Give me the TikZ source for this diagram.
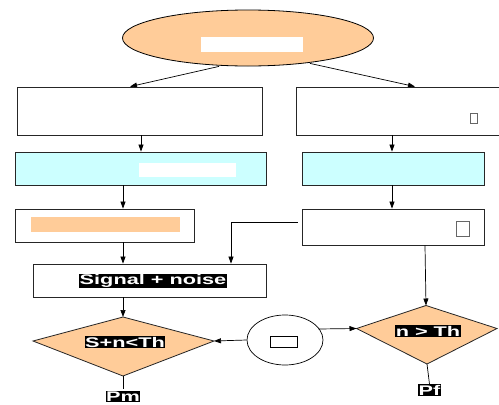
\documentclass[tikz,border=0pt]{standalone}
\usepackage{fontspec}
\setmainfont{Liberation Sans}
\newfontfamily\lblfont[FakeStretch=1.55]{Liberation Sans}
\usetikzlibrary{arrows.meta,shapes.geometric,calc,backgrounds}
\definecolor{peach}{HTML}{FFCC99}
\definecolor{lcyan}{HTML}{CCFFFF}
\begin{document}
\begin{tikzpicture}[x=1pt,y=-1pt,
  box/.style={draw=black!85, line width=0.8pt, rectangle, inner sep=0pt, fill=white},
  cbox/.style={box, fill=lcyan},
  dec/.style={draw=black!85, line width=0.8pt, fill=peach, line join=miter},
  lbl/.style={fill=black, text=white, inner sep=0.6pt, font=\lblfont\bfseries\fontsize{14}{14}\selectfont},
  ph/.style={rectangle, inner sep=0pt},
  arr/.style={draw=black, line width=0.7pt, -{Triangle[length=7pt,width=5pt]}},
  ln/.style={draw=black, line width=0.7pt}]
\useasboundingbox (0,0) rectangle (499,405);

% top ellipse
\node[ellipse, draw=black, line width=0.8pt, fill=peach, minimum width=251, minimum height=56, inner sep=0] (E) at (248,38) {};
\node[ph, fill=white, minimum width=102, minimum height=15] (Eph) at (252,44.5) {};

% first row
\node[box, minimum width=245, minimum height=48] (L1) at (139.5,111) {};
\node[box, minimum width=210, minimum height=48] (R1) at (401,111) {};
\node[ph, draw=black!60, line width=0.6pt, minimum width=7, minimum height=10] (R1ph) at (473.5,118) {};

% second row
\node[cbox, minimum width=251, minimum height=33] (L2) at (140.5,168.5) {};
\node[ph, fill=white, minimum width=97, minimum height=14] (L2ph) at (187.5,170) {};
\node[cbox, minimum width=182, minimum height=33] (R2) at (393,168.5) {};

% third row
\node[box, minimum width=179, minimum height=33] (L3) at (104.5,225.5) {};
\node[ph, fill=peach, minimum width=149, minimum height=15] (L3ph) at (105.5,224.5) {};
\node[box, minimum width=182, minimum height=36] (R3) at (393,227) {};
\node[ph, draw=black!60, line width=0.6pt, minimum width=13, minimum height=15] (R3ph) at (462.5,228.5) {};

% fourth row
\node[box, minimum width=233, minimum height=33] (L4) at (149.5,280.5) {};
\node[lbl] (L4t) at (153,281) {Signal + noise};

% left diamond
\coordinate (D1t) at (123,317);
\coordinate (D1r) at (214,341);
\coordinate (D1b) at (123,376);
\coordinate (D1l) at (33,341);
\draw[dec] (D1t) -- (D1r) -- (D1b) -- (D1l) -- cycle;
\node[lbl] (D1x) at (125,342) {S+n<Th};

% right diamond
\coordinate (D2t) at (426,305.5);
\coordinate (D2r) at (497,328.5);
\coordinate (D2b) at (427,364);
\coordinate (D2l) at (356.5,328.5);
\draw[dec] (D2t) -- (D2r) -- (D2b) -- (D2l) -- cycle;
\node[lbl] (D2x) at (428,331) {n > Th};

% small ellipse
\node[ellipse, draw=black, line width=0.7pt, fill=white, minimum width=76, minimum height=50, inner sep=0] (C) at (285,340) {};
\node[ph, draw=black, line width=0.7pt, minimum width=27, minimum height=11] (Cph) at (283.5,342) {};

% labels
\node[lbl] (Pm) at (123,396.5) {Pm};
\node[lbl] (Pf) at (429.5,390) {Pf};

\begin{scope}[on background layer]
\draw[arr] ([xshift=-29]E.south) -- (L1.north -| 130,0);
\draw[arr] ($(E.south)+(62,-3)$) -- (R1.north -| 415,0);
\end{scope}
\draw[arr] (L1.south -| 141,0) -- (L2.north -| 141,0);
\draw[arr] (R1.south -| 392,0) -- (R2.north -| 392,0);
\draw[arr] (L2.south -| 123,0) -- (L3.north -| 123,0);
\draw[arr] (R2.south -| 392,0) -- (R3.north -| 392,0);
\draw[arr] (L3.south -| 123,0) -- (L4.north -| 123,0);
\draw[arr] ($(R3.west)+(-4,-5)$) -- (231,222) -- (L4.north -| 231,0);
\draw[arr] (R3.south -| 425,0) -- (D2t);
\draw[arr] (L4.south -| 123,0) -- (D1t);
\draw[arr] (C.west) -- (D1r);
\draw[arr] ($(C.east)+(-5,-11)$) -- (D2l);
\draw[ln] (D1b) -- ([yshift=2pt]Pm.north);
\draw[ln] (D2b) -- (Pf.north);
\end{tikzpicture}
\end{document}
